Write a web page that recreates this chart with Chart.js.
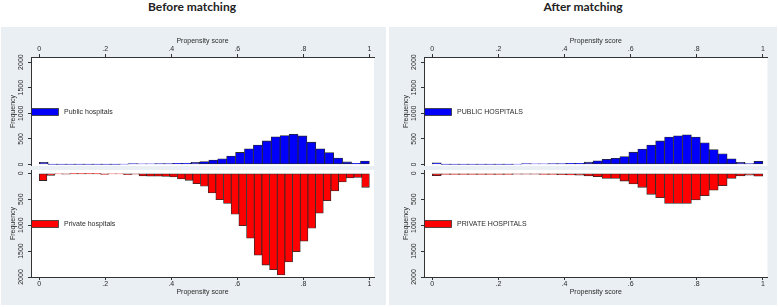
<!DOCTYPE html>
<html>
<head>
<meta charset="utf-8">
<title>Propensity score before / after matching</title>
<script src="https://cdn.jsdelivr.net/npm/chart.js@4.4.1/dist/chart.umd.min.js"></script>
<style>
    html, body { margin: 0; padding: 0; background: #fff; }
    body { width: 778px; height: 307px; position: relative; overflow: hidden; }
    .title {
        position: absolute; top: 0; transform: translateX(-50%);
        font: bold 12px Lato, "Open Sans", sans-serif; line-height: 13px;
        color: #222; white-space: nowrap;
    }
    .panel { position: absolute; top: 27px; height: 278px; background: #e9eff2; }
    canvas { position: absolute; }
</style>
</head>
<body>
<div class="title" style="left:192px">Before matching</div>
<div class="title" style="left:583px">After matching</div>
<div class="panel" style="left:1px;width:385px"></div>
<div class="panel" style="left:389px;width:388px"></div>
<canvas id="beforeTop"></canvas>
<canvas id="beforeBottom"></canvas>
<canvas id="afterTop"></canvas>
<canvas id="afterBottom"></canvas>

<script>
// ===========================
// Data
// ===========================

const xTickValues = [0, 0.2, 0.4, 0.6, 0.8, 1];
const xTickLabels = ['0', '.2', '.4', '.6', '.8', '1'];
const yTickValues = [0, 500, 1000, 1500, 2000];
const yTickLabels = ['0', '500', '1000', '1500', '2000'];

// frequencies per bin, bins spread evenly over [0, 1]
// public hospitals: 37 bins
const publicBefore = [40, 3, 3, 3, 3, 3, 3, 3, 3, 5, 15, 12, 12, 15, 15, 20, 20, 40, 55, 85,
    112, 165, 235, 305, 378, 460, 540, 565, 590, 558, 435, 305, 232, 125, 50, 20, 65];
// private hospitals before matching: 43 bins
const privateBefore = [140, 40, 10, 15, 5, 5, 5, 5, 20, 10, 10, 25, 15, 50, 55, 55, 60, 70, 110, 135,
    200, 250, 380, 510, 580, 790, 1010, 1250, 1580, 1770, 1860, 1960, 1710, 1510, 1310, 1060,
    770, 530, 340, 165, 90, 80, 270];
// after matching: 37 bins each
const publicAfter = [30, 3, 3, 3, 3, 3, 3, 3, 3, 5, 15, 12, 12, 15, 15, 20, 20, 45, 70, 100,
    120, 155, 240, 300, 380, 460, 535, 560, 580, 535, 425, 290, 210, 110, 40, 15, 60];
const privateAfter = [45, 20, 20, 20, 20, 20, 20, 20, 20, 15, 15, 15, 20, 20, 25, 30, 35, 50, 65, 100,
    100, 150, 205, 270, 405, 470, 580, 580, 580, 515, 430, 325, 240, 100, 50, 35, 55];

// ===========================
// Helpers
// ===========================

Chart.defaults.font.family = '"Liberation Sans", Arial, sans-serif';
Chart.defaults.font.size = 7;
Chart.defaults.color = '#2b2b2b';

const FONT = { family: '"Liberation Sans", Arial, sans-serif', size: 7 };
const AXIS_COLOR = '#333';

function toBins(counts) {
    const w = 1 / counts.length;
    return counts.map((c, i) => ({ x: (i + 0.5) * w, y: c }));
}

// white plot region + the in-plot legend key
const plotDecor = {
    id: 'plotDecor',
    beforeDraw(chart) {
        const { ctx, chartArea: a } = chart;
        ctx.save();
        ctx.fillStyle = '#ffffff';
        ctx.fillRect(a.left, a.top, a.right - a.left, a.bottom - a.top);
        ctx.restore();
    },
    afterDraw(chart, args, opts) {
        if (!opts.label) return;
        const { ctx, chartArea: a } = chart;
        const y = Math.round((a.top + a.bottom) / 2);
        ctx.save();
        ctx.fillStyle = opts.color;
        ctx.strokeStyle = AXIS_COLOR;
        ctx.lineWidth = 0.8;
        ctx.fillRect(a.left + 0.5, y - 3.5, 27, 7);
        ctx.strokeRect(a.left + 0.5, y - 3.5, 27, 7);
        ctx.fillStyle = '#2b2b2b';
        ctx.font = '7px "Liberation Sans", Arial, sans-serif';
        ctx.textBaseline = 'middle';
        ctx.fillText(opts.label, a.left + 33, y);
        ctx.restore();
    }
};

function noPadding(scale) {
    scale.paddingTop = 0;
    scale.paddingBottom = 0;
    scale.paddingLeft = 0;
    scale.paddingRight = 0;
}

// panel geometry in page pixels
const PANELS = {
    before: { left: 1, right: 386, plotLeft: 31, plotRight: 374 },
    after: { left: 389, right: 777, plotLeft: 424, plotRight: 767.5 }
};

function makeHistogram(canvasId, panel, half, counts, color, legendLabel) {
    const isTop = half === 'top';
    const canvas = document.getElementById(canvasId);
    const width = panel.right - panel.left;
    const top = isTop ? 27 : 168;
    const height = isTop ? 139 : 137;
    canvas.width = width;
    canvas.height = height;
    canvas.style.left = panel.left + 'px';
    canvas.style.top = top + 'px';
    canvas.style.width = width + 'px';
    canvas.style.height = height + 'px';

    const axisWidth = panel.plotLeft - panel.left;
    const titleX = panel.plotLeft - 17.5 - panel.left; // "Frequency" centre inside the axis box

    return new Chart(canvas, {
        type: 'bar',
        data: {
            datasets: [{
                data: toBins(counts),
                backgroundColor: color,
                borderColor: '#2a2a2a',
                borderWidth: 0.8,
                borderSkipped: false,
                barPercentage: 1,
                categoryPercentage: 1,
                grouped: false
            }]
        },
        plugins: [plotDecor],
        options: {
            responsive: false,
            animation: false,
            devicePixelRatio: 1,
            layout: {
                padding: {
                    left: 0,
                    right: panel.right - panel.plotRight,
                    top: isTop ? 0 : 2,
                    bottom: isTop ? 0 : 9
                }
            },
            plugins: {
                legend: { display: false },
                tooltip: { enabled: false },
                plotDecor: { label: legendLabel, color: color }
            },
            scales: {
                x: {
                    type: 'linear',
                    position: isTop ? 'top' : 'bottom',
                    min: -0.025,
                    max: 1.014,
                    offset: false,
                    grid: { display: true, drawOnChartArea: false, drawTicks: true, tickLength: 3, color: AXIS_COLOR, offset: false },
                    border: { display: true, color: AXIS_COLOR, width: 1 },
                    ticks: {
                        font: FONT,
                        padding: isTop ? 1 : 0,
                        maxRotation: 0,
                        autoSkip: false,
                        callback: (value, index) => xTickLabels[index]
                    },
                    title: {
                        display: true,
                        text: 'Propensity score',
                        font: FONT,
                        padding: isTop ? { top: 10, bottom: 0 } : { top: 0, bottom: 0 }
                    },
                    afterBuildTicks: scale => { scale.ticks = xTickValues.map(v => ({ value: v })); },
                    afterFit: scale => { scale.height = isTop ? 30 : 19; noPadding(scale); }
                },
                y: {
                    type: 'linear',
                    min: isTop ? -30 : -64,
                    max: isTop ? 2100 : 2000,
                    reverse: !isTop,
                    grid: { display: true, drawOnChartArea: false, drawTicks: true, tickLength: 3, color: AXIS_COLOR },
                    border: { display: true, color: AXIS_COLOR, width: 1 },
                    ticks: {
                        font: FONT,
                        padding: -1,
                        minRotation: 90,
                        maxRotation: 90,
                        crossAlign: 'center',
                        autoSkip: false,
                        callback: (value, index) => yTickLabels[index]
                    },
                    title: {
                        display: true,
                        text: 'Frequency',
                        font: FONT,
                        padding: { top: titleX - 4.2, bottom: 0 }
                    },
                    afterBuildTicks: scale => { scale.ticks = yTickValues.map(v => ({ value: v })); },
                    afterFit: scale => { scale.width = axisWidth; noPadding(scale); }
                }
            }
        }
    });
}

// ===========================
// Charts
// ===========================

const BLUE = 'rgb(0, 0, 250)';
const RED = 'rgb(255, 0, 0)';

makeHistogram('beforeTop', PANELS.before, 'top', publicBefore, BLUE, 'Public hospitals');
makeHistogram('beforeBottom', PANELS.before, 'bottom', privateBefore, RED, 'Private hospitals');
makeHistogram('afterTop', PANELS.after, 'top', publicAfter, BLUE, 'PUBLIC HOSPITALS');
makeHistogram('afterBottom', PANELS.after, 'bottom', privateAfter, RED, 'PRIVATE HOSPITALS');
</script>
</body>
</html>
